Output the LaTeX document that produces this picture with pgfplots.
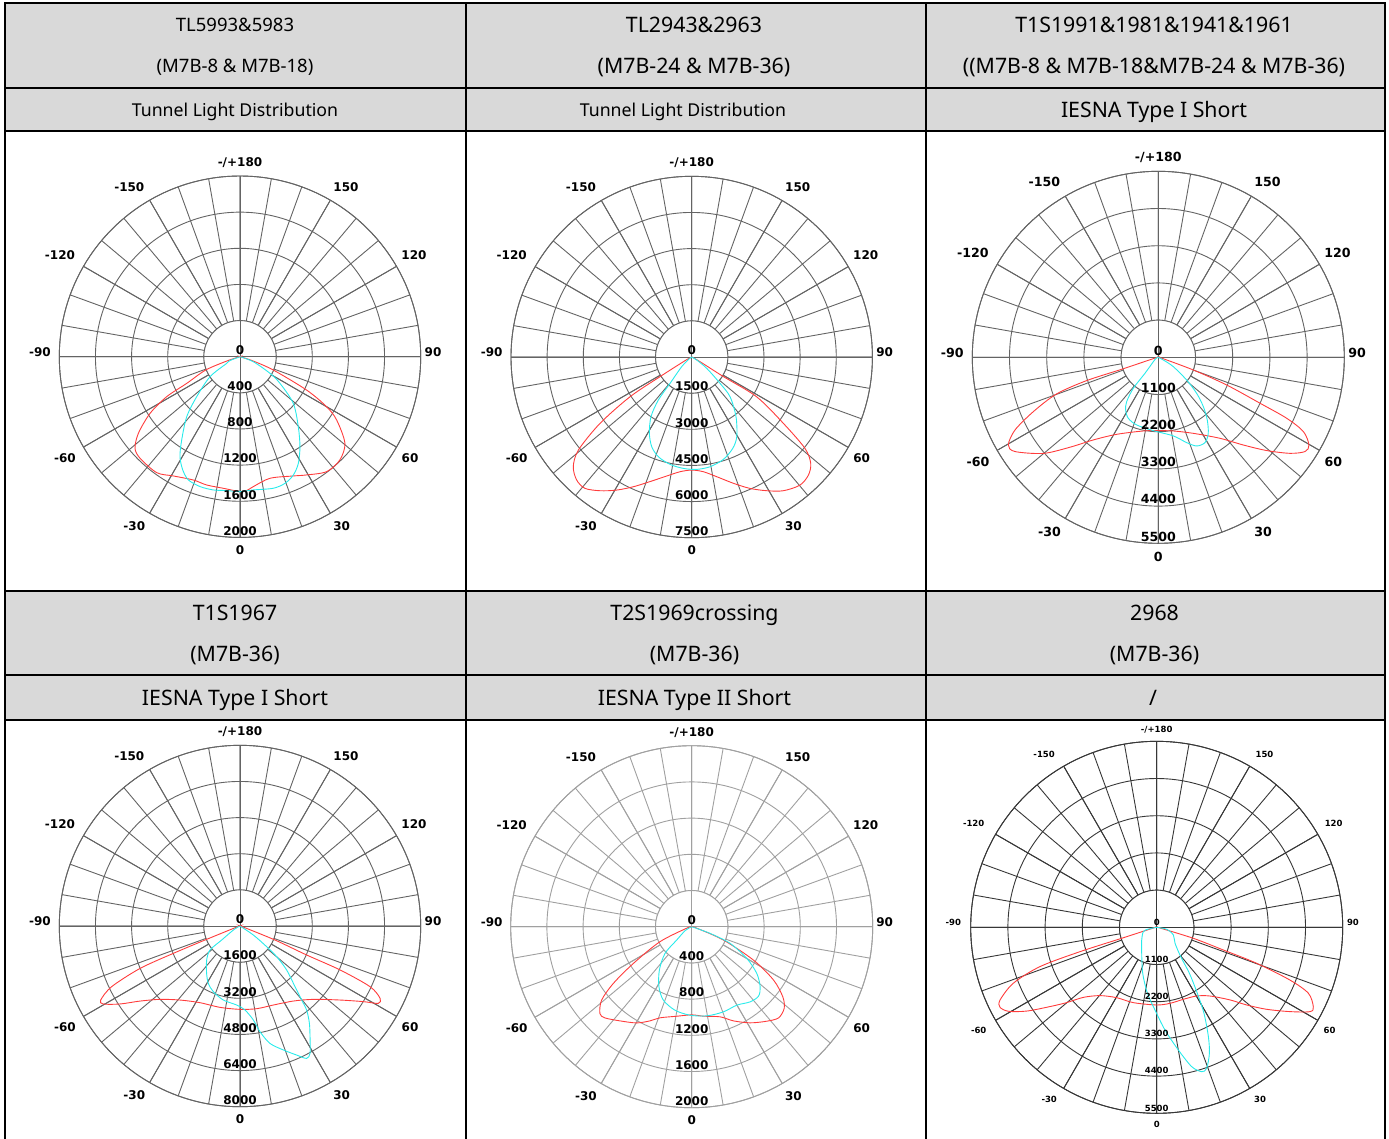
\documentclass[border=0pt]{standalone}
\usepackage{fontspec}
\usepackage{pgfplots}
\usepackage{pgfplotstable}
\pgfplotsset{compat=1.18}
\usepgfplotslibrary{polar}

\newfontfamily\hdfont{Noto Sans}
\newfontfamily\labfont{DejaVu Sans}

\definecolor{hdgray}{RGB}{217,217,217}
\definecolor{gmid}{RGB}{100,100,100}
\definecolor{glight}{RGB}{160,160,160}
\definecolor{gdark}{RGB}{55,55,55}
\definecolor{cred}{RGB}{255,60,60}
\definecolor{ccyan}{RGB}{40,235,235}

% intensity curves: photometric angle (0 = nadir, + to the right), cd
\pgfplotstableread[row sep=\\]{a cd\\
-90 0\\ -80 10\\ -72 150\\ -68.8 407\\ -63.4 660\\ -61.4 924\\ -57.8 1176\\ -53 1408\\
-48.9 1542\\ -44.5 1577\\ -35.7 1580\\ -29.2 1512\\ -20.7 1459\\ -14.6 1467\\ -7.2 1468\\
0 1493\\ 2.8 1484\\ 5.9 1445\\ 13.9 1386\\ 24.1 1446\\ 29.4 1502\\ 37 1593\\ 44 1590\\
50.5 1505\\ 56.8 1278\\ 60 1106\\ 63.4 825\\ 68.2 397\\ 72 150\\ 80 10\\ 90 0\\}\redA
\pgfplotstableread[row sep=\\]{a cd\\
-90 0\\ -69 120\\ -63.4 165\\ -56.3 398\\ -47.3 652\\ -41.6 888\\ -35 1125\\ -31 1290\\
-26.8 1405\\ -22.7 1479\\ -17.1 1504\\ -11.3 1504\\ -5.7 1489\\ 0 1493\\ 5.7 1482\\
14.2 1502\\ 19.6 1487\\ 24.3 1436\\ 28.7 1345\\ 33.7 1196\\ 39.8 1008\\ 48.8 784\\
56.3 532\\ 61 380\\ 69.4 157\\ 90 0\\}\cyanA

\pgfplotstableread[row sep=\\]{a cd\\
-90 0\\ -65 100\\ -60 500\\ -58.2 1548\\ -57.2 3045\\ -54.1 4698\\ -50.6 6087\\ -47.2 6699\\
-43.1 6990\\ -39.1 7025\\ -34.4 6727\\ -29.4 6339\\ -24.2 5903\\ -18.5 5453\\ -11.9 5049\\
-5.8 4786\\ 0 4692\\ 5.8 4786\\ 11.8 5075\\ 18.3 5522\\ 23.9 5965\\ 29.3 6364\\ 34.4 6727\\
40.2 6962\\ 44.7 6890\\ 48.2 6627\\ 51.1 6044\\ 54.1 4698\\ 58.5 3161\\ 58.3 1548\\
60 500\\ 65 100\\ 90 0\\}\redB
\pgfplotstableread[row sep=\\]{a cd\\
-90 0\\ -55 100\\ -46 577\\ -39.4 1416\\ -37.8 2258\\ -34.3 2998\\ -29 3624\\ -24 4077\\
-18.5 4364\\ -11.4 4546\\ -4.3 4636\\ 2.5 4669\\ 9.5 4617\\ 17.2 4448\\ 24.2 4157\\
29.5 3799\\ 36.6 3086\\ 44 2290\\ 47.1 1606\\ 53 780\\ 59 242\\ 90 0\\}\cyanB

\pgfplotstableread[row sep=\\]{a cd\\
-90 0\\ -77 100\\ -71.9 1141\\ -72 2228\\ -70.2 3196\\ -66.5 4030\\ -63.1 4753\\ -59.7 5137\\
-56.7 5074\\ -50.1 4430\\ -44.5 3728\\ -38.2 3110\\ -28.4 2589\\ -11.5 2223\\ 0 2169\\
11.5 2223\\ 24.7 2474\\ 37.3 3011\\ 44.1 3611\\ 49.3 4229\\ 53.9 4819\\ 57.3 5157\\
59.8 5155\\ 62.9 4818\\ 64.6 4202\\ 65.7 3300\\ 67.96 2180\\ 70.1 1101\\ 76 100\\ 90 0\\}\redC
\pgfplotstableread[row sep=\\]{a cd\\
-90 0\\ -60 100\\ -39.8 616\\ -38.9 1178\\ -35.5 1611\\ -31.8 1833\\ -26.2 2010\\
-17.8 2100\\ -3.9 2174\\ 10.8 2366\\ 18.4 2659\\ 23.4 2857\\ 28.7 2876\\ 33.3 2690\\
38 2352\\ 42.4 1975\\ 46.8 1555\\ 51.3 1073\\ 58.1 522\\ 62 168\\ 90 0\\}\cyanC

\pgfplotstableread[row sep=\\]{a cd\\
-90 0\\ -74 100\\ -68.2 1669\\ -67.7 3190\\ -67 4809\\ -64.7 6286\\ -62 6986\\ -60.3 6968\\
-57 6338\\ -53.1 5535\\ -47.5 4806\\ -39 4217\\ -27.6 3829\\ -13.8 3709\\ 0 3690\\
11.4 3734\\ 22.9 3797\\ 35.4 4075\\ 45 4592\\ 53.5 5509\\ 58.5 6407\\ 60.8 7017\\
62.7 6979\\ 65 6353\\ 66.3 4838\\ 66.5 3218\\ 68.2 1669\\ 74 100\\ 90 0\\}\redD
\pgfplotstableread[row sep=\\]{a cd\\
-90 0\\ -60 300\\ -52.6 1021\\ -51.3 1701\\ -44.4 2108\\ -35.2 2564\\ -28.9 2900\\
-22.1 3138\\ -12.7 3359\\ -2.4 3501\\ 3.4 3726\\ 8.1 4204\\ 10.7 4762\\ 14.3 5362\\
19.3 5816\\ 23.7 6239\\ 26.7 6561\\ 28.8 6435\\ 31.6 5923\\ 35.5 5292\\ 38.4 4748\\
39.8 4266\\ 42.2 3626\\ 46.7 2840\\ 50.1 2117\\ 52.2 1494\\ 56 713\\ 90 0\\}\cyanD

\pgfplotstableread[row sep=\\]{a cd\\
-90 0\\ -75 50\\ -64.7 388\\ -57.8 763\\ -54.1 1070\\ -50.8 1285\\ -46.6 1396\\ -43.6 1391\\
-37.3 1308\\ -29.8 1225\\ -23.9 1138\\ -19.2 1066\\ -9.5 1003\\ 0 974\\ 7.4 997\\
17.5 1044\\ 23.9 1138\\ 31.3 1243\\ 38.5 1334\\ 43.6 1391\\ 48.5 1364\\ 52.4 1271\\
56.9 1080\\ 61.6 776\\ 67.2 380\\ 75 50\\ 90 0\\}\redE
\pgfplotstableread[row sep=\\]{a cd\\
-90 0\\ -60 80\\ -48.4 222\\ -45 417\\ -36.7 598\\ -28.6 756\\ -21.1 870\\ -11.3 941\\
-1.1 978\\ 9.6 999\\ 20.4 1004\\ 29.9 1000\\ 37.9 1052\\ 43.9 1065\\ 48.7 1007\\
54.3 886\\ 60.1 703\\ 66.5 463\\ 70 216\\ 90 0\\}\cyanE

\pgfplotstableread[row sep=\\]{a cd\\
-90 0\\ -78 100\\ -72.6 1085\\ -72.4 2378\\ -71.4 3641\\ -68.7 4551\\ -65.1 5107\\ -63 5202\\
-60.5 5041\\ -57.2 4572\\ -53.4 3931\\ -50.1 3470\\ -46.3 2998\\ -39.7 2625\\ -29.6 2393\\
-17.2 2332\\ 0 2297\\ 10 2282\\ 20.3 2270\\ 30.2 2350\\ 37.8 2571\\ 45.3 3053\\
49.2 3515\\ 53.3 4057\\ 57.7 4665\\ 61.2 5175\\ 63.1 5193\\ 66.5 4891\\ 68.4 4239\\
70.2 3143\\ 71.2 2082\\ 73.3 1132\\ 78 100\\ 90 0\\}\redF
\pgfplotstableread[row sep=\\]{a cd\\
-90 0\\ -78 250\\ -72 414\\ -49.8 581\\ -30 888\\ -16.9 1422\\ -8 1971\\ -1.2 2445\\
4.6 3046\\ 10 3683\\ 14.1 4248\\ 17.3 4471\\ 19.5 4424\\ 22.7 4038\\ 25.3 3576\\
28.8 2903\\ 31.6 2293\\ 35.4 1669\\ 39.3 1121\\ 48.9 720\\ 65.3 542\\ 78.7 302\\ 90 0\\}\cyanF

\pgfplotsset{
  lamp/.style={
    scale only axis, clip=false, anchor=center, ymin=0,
    xtick={0,30,...,330}, minor xtick={0,10,...,350},
    xticklabels={}, yticklabels={},
    grid=both, major tick length=0pt, minor tick length=0pt,
    axis line style={draw=#1, line width=0.9pt},
    major grid style={draw=#1, line width=0.9pt},
    minor grid style={draw=#1, line width=0.9pt},
  },
  redc/.style={cred, line width=0.9pt, smooth, tension=0.5, no markers},
  cyanc/.style={ccyan, line width=0.9pt, smooth, tension=0.5, no markers},
}

% white centre disc, cross through the centre, inner ring
\newcommand{\lampbase}[3]{%
  \fill[white] (axis cs:0,0) circle[radius=#1];
  \draw[#3, line width=0.9pt] (axis cs:0,#2) -- (axis cs:180,#2);
  \draw[#3, line width=0.9pt] (axis cs:90,#2) -- (axis cs:270,#2);
  \draw[#3, line width=0.9pt] (axis cs:0,0) circle[radius=#1];
}
% angle labels round the outer circle, offsets from the centre: #1 font, #2 cap height, #3 scale
\newcommand{\anglabels}[3]{%
  \tikzset{al/.style={inner sep=0pt, anchor=center, text height=#2, text depth=0pt, font=#1}}
  \node[al, shift={(0pt,-#3*193.3pt)}]          at (axis cs:0,0) {0};
  \node[al, shift={(#3*101.7pt,-#3*169.3pt)}]   at (axis cs:0,0) {30};
  \node[al, shift={(#3*170pt,-#3*101.6pt)}]     at (axis cs:0,0) {60};
  \node[al, shift={(#3*193pt,#3*4.4pt)}]        at (axis cs:0,0) {90};
  \node[al, shift={(#3*174pt,#3*101.7pt)}]      at (axis cs:0,0) {120};
  \node[al, shift={(#3*106pt,#3*170pt)}]        at (axis cs:0,0) {150};
  \node[al, shift={(0pt,#3*195pt)}]             at (axis cs:0,0) {-/+180};
  \node[al, shift={(-#3*110.7pt,#3*170pt)}]     at (axis cs:0,0) {-150};
  \node[al, shift={(-#3*180pt,#3*101.7pt)}]     at (axis cs:0,0) {-120};
  \node[al, shift={(-#3*200pt,#3*4.4pt)}]       at (axis cs:0,0) {-90};
  \node[al, shift={(-#3*175pt,-#3*101.6pt)}]    at (axis cs:0,0) {-60};
  \node[al, shift={(-#3*105.7pt,-#3*169.3pt)}]  at (axis cs:0,0) {-30};
}
% intensity labels above each ring on the downward axis
\newcommand{\radlabels}[7]{%
  \tikzset{rl/.style={anchor=south, inner sep=2pt, text height=#2, text depth=0pt, font=#1}}
  \node[rl] at (axis cs:-90,0) {0};
  \node[rl] at (axis cs:-90,#3) {#3};
  \node[rl] at (axis cs:-90,#4) {#4};
  \node[rl] at (axis cs:-90,#5) {#5};
  \node[rl] at (axis cs:-90,#6) {#6};
  \node[rl] at (axis cs:-90,#7) {#7};
}

\newcommand{\lab}{\labfont\bfseries\fontsize{12}{14}\selectfont}
\newcommand{\labb}{\labfont\bfseries\fontsize{12.6}{14}\selectfont}
\newcommand{\labs}{\labfont\bfseries\fontsize{8.5}{10}\selectfont}

\begin{document}
\begin{tikzpicture}
\useasboundingbox (0pt,0pt) rectangle (1389pt,-1138pt);
\clip (0pt,0pt) rectangle (1389pt,-1138pt);

\begin{scope}[x=1pt,y=-1pt]
  \fill[hdgray] (5,3) rectangle (1385,131);
  \fill[hdgray] (5,591) rectangle (1385,720);
  \begin{scope}[line width=2pt]
    \foreach \yy in {3,87.5,131,591,675,720} \draw (4,\yy) -- (1386,\yy);
    \foreach \xx in {5,465.5,925.5,1385} \draw (\xx,2) -- (\xx,1140);
  \end{scope}
  \tikzset{
    hs/.style={inner sep=0pt, text height=12.6pt, text depth=0pt, font=\hdfont\fontsize{17.7}{20}\selectfont},
    hm/.style={inner sep=0pt, text height=13.2pt, text depth=0pt, font=\hdfont\fontsize{18.5}{21}\selectfont},
    hl/.style={inner sep=0pt, text height=15.2pt, text depth=0pt, font=\hdfont\fontsize{21.3}{24}\selectfont},
  }
  \node[hm] at (235,25) {TL5993\&5983};
  \node[hm] at (235,66) {(M7B-8 \& M7B-18)};
  \node[hs] at (235,110) {Tunnel Light Distribution};
  \node[hl] at (694,25) {TL2943\&2963};
  \node[hl] at (694,66) {(M7B-24 \& M7B-36)};
  \node[hs] at (683,110) {Tunnel Light Distribution};
  \node[hl] at (1154,25) {T1S1991\&1981\&1941\&1961};
  \node[hl] at (1154,66) {((M7B-8 \& M7B-18\&M7B-24 \& M7B-36)};
  \node[hl] at (1154,110) {IESNA Type I Short};
  \node[hl] at (235,613) {T1S1967};
  \node[hl] at (235,654) {(M7B-36)};
  \node[hl] at (235,698) {IESNA Type I Short};
  \node[hl] at (694.5,613) {T2S1969crossing};
  \node[hl] at (694.5,654) {(M7B-36)};
  \node[hl] at (694.5,698) {IESNA Type II Short};
  \node[hl] at (1154.5,613) {2968};
  \node[hl] at (1154.5,654) {(M7B-36)};
  \node[hl] at (1153,698) {/};
\end{scope}

% TL5993&5983
\begin{polaraxis}[lamp=gmid, at={(240pt,-356.7pt)}, width=361.4pt, height=361.4pt,
  ymax=2000, ytick={400,800,...,2000}]
  \lampbase{36.14pt}{2000}{gmid}
  \addplot[redc] table[x expr=\thisrow{a}-90, y=cd] {\redA};
  \addplot[cyanc] table[x expr=\thisrow{a}-90, y=cd] {\cyanA};
  \anglabels{\lab}{8.75pt}{1}
  \radlabels{\lab}{8.75pt}{400}{800}{1200}{1600}{2000}
\end{polaraxis}

% TL2943&2963
\begin{polaraxis}[lamp=gmid, at={(691.7pt,-357pt)}, width=361.4pt, height=361.4pt,
  ymax=7500, ytick={1500,3000,...,7500}]
  \lampbase{36.14pt}{7500}{gmid}
  \addplot[redc] table[x expr=\thisrow{a}-90, y=cd] {\redB};
  \addplot[cyanc] table[x expr=\thisrow{a}-90, y=cd] {\cyanB};
  \anglabels{\lab}{8.75pt}{1}
  \radlabels{\lab}{8.75pt}{1500}{3000}{4500}{6000}{7500}
\end{polaraxis}

% T1S1991&1981&1941&1961
\begin{polaraxis}[lamp=gmid, at={(1158.3pt,-357.3pt)}, width=372pt, height=372pt,
  ymax=5500, ytick={1100,2200,...,5500}]
  \lampbase{37.2pt}{5500}{gmid}
  \addplot[redc] table[x expr=\thisrow{a}-90, y=cd] {\redC};
  \addplot[cyanc] table[x expr=\thisrow{a}-90, y=cd] {\cyanC};
  \anglabels{\labb}{9.2pt}{1.03}
  \radlabels{\labb}{9.2pt}{1100}{2200}{3300}{4400}{5500}
\end{polaraxis}

% T1S1967
\begin{polaraxis}[lamp=gmid, at={(240pt,-926pt)}, width=361.4pt, height=361.4pt,
  ymax=8000, ytick={1600,3200,...,8000}]
  \lampbase{36.14pt}{8000}{gmid}
  \addplot[redc] table[x expr=\thisrow{a}-90, y=cd] {\redD};
  \addplot[cyanc] table[x expr=\thisrow{a}-90, y=cd] {\cyanD};
  \anglabels{\lab}{8.75pt}{1}
  \radlabels{\lab}{8.75pt}{1600}{3200}{4800}{6400}{8000}
\end{polaraxis}

% T2S1969crossing
\begin{polaraxis}[lamp=glight, at={(691.7pt,-926.7pt)}, width=362pt, height=362pt,
  ymax=2000, ytick={400,800,...,2000}]
  \lampbase{36.2pt}{2000}{glight}
  \addplot[redc] table[x expr=\thisrow{a}-90, y=cd] {\redE};
  \addplot[cyanc] table[x expr=\thisrow{a}-90, y=cd] {\cyanE};
  \anglabels{\lab}{8.75pt}{1}
  \radlabels{\lab}{8.75pt}{400}{800}{1200}{1600}{2000}
\end{polaraxis}

% 2968
\begin{polaraxis}[lamp=gdark, at={(1156.7pt,-927.3pt)}, width=372pt, height=372pt,
  ymax=5500, ytick={1100,2200,...,5500}]
  \lampbase{37.2pt}{5500}{gdark}
  \addplot[redc] table[x expr=\thisrow{a}-90, y=cd] {\redF};
  \addplot[cyanc] table[x expr=\thisrow{a}-90, y=cd] {\cyanF};
  \anglabels{\labs}{6.2pt}{1.017}
  \radlabels{\labs}{6.2pt}{1100}{2200}{3300}{4400}{5500}
\end{polaraxis}
\end{tikzpicture}
\end{document}
